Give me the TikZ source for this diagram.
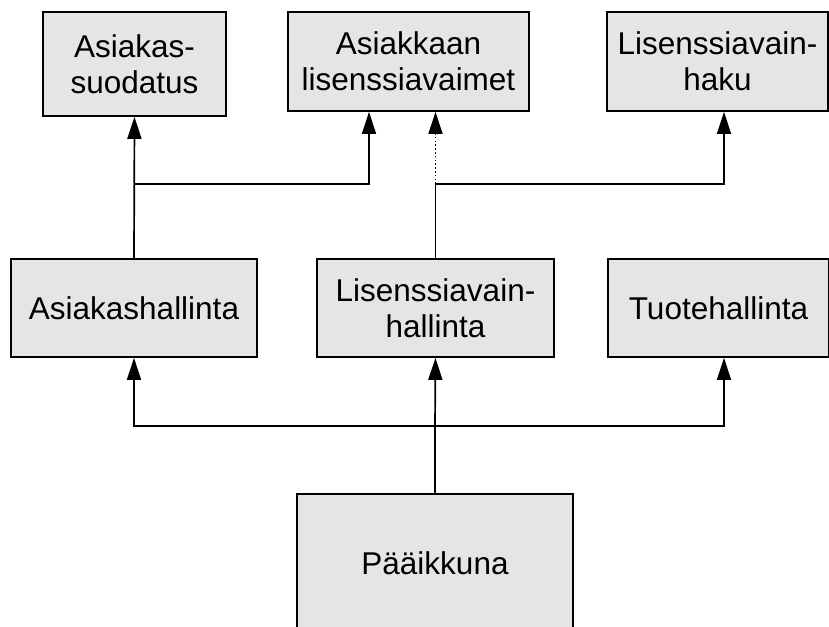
\documentclass[tikz,border=0pt]{standalone}
\usepackage{fontspec}
\setmainfont{Liberation Sans}
\usetikzlibrary{arrows.meta}
\begin{document}
\begin{tikzpicture}[x=1pt,y=-1pt,
  box/.style={draw=black, line width=1.7pt, fill=black!10, align=center,
    inner sep=0pt, font=\fontsize{31.5}{36}\selectfont},
  link/.style={line width=1.7pt},
  arr/.style={link, -{Triangle[length=22pt,width=14pt]}},
  dotlink/.style={arr, dash pattern=on 1.6pt off 2.2pt}]
\useasboundingbox (0,0) rectangle (829,626);
% upper row
\node[box, minimum width=183pt, minimum height=104pt] (as) at (134.5,64) {Asiakas-\\suodatus};
\node[box, minimum width=241pt, minimum height=99pt] (akl) at (408.5,61.5) {Asiakkaan\\lisenssiavaimet};
\node[box, minimum width=221pt, minimum height=99pt] (lk) at (717.5,61.5) {Lisenssiavain-\\haku};
% middle row
\node[box, minimum width=246pt, minimum height=98pt] (ah) at (134,308) {Asiakashallinta};
\node[box, minimum width=237pt, minimum height=98pt] (lh) at (435.5,308) {Lisenssiavain-\\hallinta};
\node[box, minimum width=221pt, minimum height=98pt] (th) at (718.5,308) {Tuotehallinta};
% main window
\node[box, minimum width=276pt, minimum height=138pt] (pk) at (435,563) {Pääikkuna};
% junctions
\coordinate (bus) at (435,426);
\coordinate (j1) at (134,184);
\coordinate (j2) at (435.5,184);
% main window to the managers
\draw[link] (pk.north) -- (bus);
\draw[arr] (bus) -- (lh.south);
\draw[arr] (bus) -| (ah.south);
\draw[arr] (bus) -| ([xshift=5.5pt]th.south);
% customer management
\draw[arr] (ah.north) -- (as.south);
\draw[arr] (j1) -| ([xshift=-39.5pt]akl.south);
% licence key management
\draw[link] (lh.north) -- (j2);
\draw[dotlink] (j2) -- (j2 |- akl.south);
\draw[arr] (j2) -| ([xshift=6.5pt]lk.south);
\end{tikzpicture}
\end{document}
